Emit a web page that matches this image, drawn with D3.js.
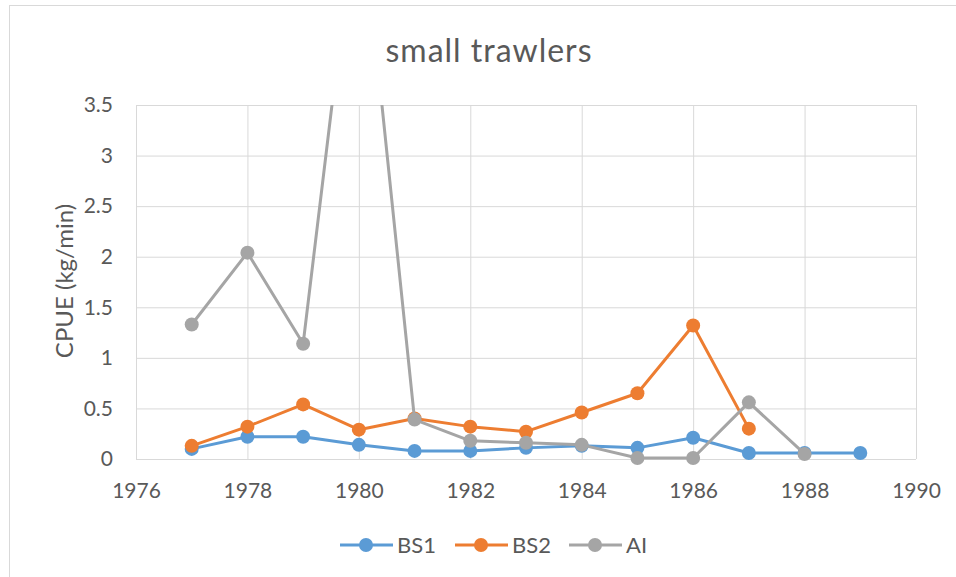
<!DOCTYPE html>
<html>
<head>
<meta charset="utf-8">
<script src="https://cdn.jsdelivr.net/npm/d3@7"></script>
<style>
  body { margin: 0; background: #fff; }
  text { font-family: Lato, "Open Sans", sans-serif; fill: #595959; }
</style>
</head>
<body>
<script>
// chart data
var years = [1977, 1978, 1979, 1980, 1981, 1982, 1983, 1984, 1985, 1986, 1987, 1988, 1989];
var bs1 = [0.10, 0.22, 0.22, 0.14, 0.08, 0.08, 0.11, 0.13, 0.11, 0.21, 0.06, 0.06, 0.06];
var bs2 = [0.13, 0.32, 0.54, 0.29, 0.40, 0.32, 0.27, 0.46, 0.65, 1.32, 0.30, null, null];
var ai  = [1.33, 2.04, 1.14, 5.7, 0.39, 0.18, 0.16, 0.14, 0.01, 0.01, 0.56, 0.05, null];
var seriesNames = ["BS1", "BS2", "AI"];
var seriesColors = ["#5B9BD5", "#ED7D31", "#A5A5A5"];
var xTicks = [1976, 1978, 1980, 1982, 1984, 1986, 1988, 1990];
var yTicks = [0, 0.5, 1, 1.5, 2, 2.5, 3, 3.5];

var width = 956;
var height = 577;
var plot = {left: 136, right: 916, top: 105, bottom: 459};

var svg = d3.select("body")
            .append("svg")
            .attr("width", width)
            .attr("height", height);

// outer chart border (only left and top edges fall inside the window)
svg.append("rect")
   .attr("x", 9.5).attr("y", 5.5)
   .attr("width", width + 20).attr("height", height + 20)
   .attr("fill", "none")
   .attr("stroke", "#D9D9D9");

var x = d3.scaleLinear().domain([1976, 1990]).range([plot.left, plot.right]);
var y = d3.scaleLinear().domain([0, 3.5]).range([plot.bottom, plot.top]);

// y axis + horizontal gridlines
var yAxis = svg.append("g")
   .attr("transform", "translate(" + plot.left + ",0)")
   .call(d3.axisLeft(y)
           .tickValues(yTicks)
           .tickSize(-(plot.right - plot.left))
           .tickPadding(23)
           .tickFormat(d3.format("")));
yAxis.select(".domain").remove();
yAxis.selectAll("line").attr("stroke", "#D9D9D9").attr("stroke-width", 1);
yAxis.selectAll("text").style("font-size", "21px").attr("fill", "#595959");

// x axis + vertical gridlines
var xAxis = svg.append("g")
   .attr("transform", "translate(0," + plot.bottom + ")")
   .call(d3.axisBottom(x)
           .tickValues(xTicks)
           .tickSize(-(plot.bottom - plot.top))
           .tickPadding(24)
           .tickFormat(d3.format("d")));
xAxis.select(".domain").remove();
xAxis.selectAll("line").attr("stroke", "#D9D9D9").attr("stroke-width", 1);
xAxis.selectAll("text").style("font-size", "21px").attr("fill", "#595959");

// title and axis title
svg.append("text")
   .attr("x", 489).attr("y", 62)
   .attr("text-anchor", "middle")
   .style("font-size", "32px")
   .style("letter-spacing", "1px")
   .text("small trawlers");

svg.append("text")
   .attr("transform", "translate(73,281) rotate(-90)")
   .attr("text-anchor", "middle")
   .style("font-size", "24px")
   .text("CPUE (kg/min)");

// clip everything that runs off the top of the plot
svg.append("clipPath").attr("id", "clip")
   .append("rect")
   .attr("x", 0).attr("y", plot.top)
   .attr("width", width).attr("height", height - plot.top);

var series = [bs1, bs2, ai].map(function(vals, i) {
    return {
        name: seriesNames[i],
        color: seriesColors[i],
        points: years.map(function(yr, j) { return {year: yr, value: vals[j]}; })
                     .filter(function(p) { return p.value != null; })
    };
});

var line = d3.line()
             .x(function(d) { return x(d.year); })
             .y(function(d) { return y(d.value); });

var marks = svg.append("g").attr("clip-path", "url(#clip)");

series.forEach(function(s) {
    marks.append("path")
         .datum(s.points)
         .attr("d", line)
         .attr("fill", "none")
         .attr("stroke", s.color)
         .attr("stroke-width", 3)
         .attr("stroke-linejoin", "round");
    marks.selectAll(null)
         .data(s.points)
         .enter()
         .append("circle")
         .attr("cx", function(d) { return x(d.year); })
         .attr("cy", function(d) { return y(d.value); })
         .attr("r", 7)
         .attr("fill", s.color);
});

// legend
var legendX = [340, 455, 569];
var legend = svg.append("g");
series.forEach(function(s, i) {
    var g = legend.append("g").attr("transform", "translate(" + legendX[i] + ",545)");
    g.append("line").attr("x1", 0).attr("x2", 53).attr("y1", 0).attr("y2", 0)
     .attr("stroke", s.color).attr("stroke-width", 3);
    g.append("circle").attr("cx", 26).attr("cy", 0).attr("r", 7).attr("fill", s.color);
    g.append("text").attr("x", 57).attr("y", 0).attr("dy", "0.35em")
     .style("font-size", "22px").text(s.name);
});
</script>
</body>
</html>
